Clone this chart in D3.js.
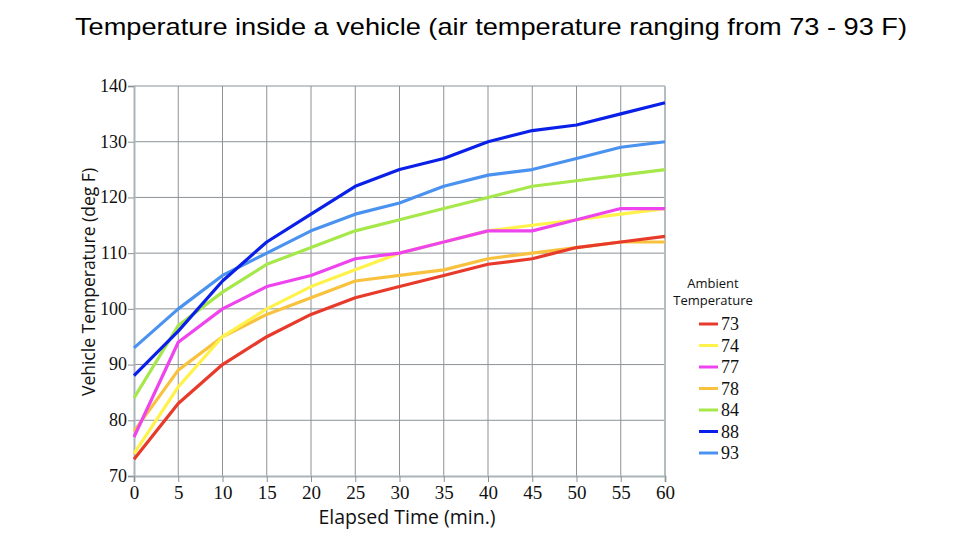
<!DOCTYPE html>
<html><head><meta charset="utf-8">
<script src="https://cdn.jsdelivr.net/npm/d3@7"></script>
<style>body{margin:0;background:#fff;} svg{display:block;}</style>
</head><body>
<svg id="c" width="960" height="539"></svg>
<script>
const times = [0,5,10,15,20,25,30,35,40,45,50,55,60];
const xTicks = [0,5,10,15,20,25,30,35,40,45,50,55,60];
const yTicks = [70,80,90,100,110,120,130,140];
const seriesNames = ["73","74","77","78","84","88","93"];
const seriesColors = ["#e83a2a","#fff24a","#ee44ee","#f8c23e","#a6e84a","#0a20e8","#4a92f0"];
const s73 = [73,83,90,95,99,102,104,106,108,109,111,112,113];
const s74 = [74,86,95,100,104,107,110,112,114,115,116,117,118];
const s77 = [77,94,100,104,106,109,110,112,114,114,116,118,118];
const s78 = [78,89,95,99,102,105,106,107,109,110,111,112,112];
const s84 = [84,97,103,108,111,114,116,118,120,122,123,124,125];
const s88 = [88,96,105,112,117,122,125,127,130,132,133,135,137];
const s93 = [93,100,106,110,114,117,119,122,124,125,127,129,130];
const seriesValues = [s73,s74,s77,s78,s84,s88,s93];
const drawOrder = [3,1,0,2,4,6,5];

const svg = d3.select("#c");
const x = d3.scaleLinear().domain([0,60]).range([134,665]);
const y = d3.scaleLinear().domain([70,140]).range([476,86]);

svg.append("text").attr("x",75).attr("y",35)
  .attr("font-family","Liberation Sans, Arial, sans-serif").attr("font-size",24)
  .attr("textLength",832).attr("lengthAdjust","spacingAndGlyphs")
  .attr("fill","#000").text("Temperature inside a vehicle (air temperature ranging from 73 - 93 F)");

// grid
const g = svg.append("g");
g.selectAll("line.v").data(xTicks.slice(1,-1)).enter().append("line")
  .attr("x1",d=>x(d)).attr("x2",d=>x(d)).attr("y1",y(140)).attr("y2",y(70))
  .attr("stroke","#8c9296").attr("stroke-width",1);
g.selectAll("line.h").data(yTicks.slice(1)).enter().append("line")
  .attr("x1",x(0)).attr("x2",x(60)).attr("y1",d=>y(d)).attr("y2",d=>y(d))
  .attr("stroke","#8c9296").attr("stroke-width",1);
// right border
g.append("line").attr("x1",x(60)).attr("x2",x(60)).attr("y1",y(140)).attr("y2",y(70))
  .attr("stroke","#b4bcc0").attr("stroke-width",2);

const serif = "Liberation Serif, Times New Roman, serif";
const yAxis = d3.axisLeft(y).tickValues(yTicks).tickSize(6).tickPadding(1);
const ya = svg.append("g").attr("transform",`translate(${x(0)},0)`).call(yAxis);
ya.select(".domain").attr("stroke","#aab4ba").attr("stroke-width",2);
ya.selectAll(".tick line").attr("stroke","#8c9296");
ya.selectAll(".tick text").attr("font-family",serif).attr("font-size",18).attr("fill","#111").attr("dy","0.3em");

const xAxis = d3.axisBottom(x).tickValues(xTicks).tickSize(6).tickPadding(4);
const xa = svg.append("g").attr("transform",`translate(0,${y(70)})`).call(xAxis);
xa.select(".domain").attr("stroke","#aab4ba").attr("stroke-width",2);
xa.selectAll(".tick line").attr("stroke","#8c9296");
xa.selectAll(".tick text").attr("font-family",serif).attr("font-size",19).attr("fill","#111");

const sans = "Open Sans, Noto Sans, sans-serif";
svg.append("text").attr("transform",`translate(94.5,282) rotate(-90)`).attr("text-anchor","middle")
  .attr("font-family",sans).attr("font-size",17.5).attr("fill","#111").text("Vehicle Temperature (deg F)");
svg.append("text").attr("x",407).attr("y",524).attr("text-anchor","middle")
  .attr("font-family",sans).attr("font-size",19.5).attr("fill","#111").text("Elapsed Time (min.)");

// lines
const line = d3.line().x((d,i)=>x(times[i])).y(d=>y(d));
drawOrder.forEach(k=>{
  svg.append("path").datum(seriesValues[k]).attr("d",line).attr("fill","none")
    .attr("stroke",seriesColors[k]).attr("stroke-width",3.2).attr("stroke-linejoin","round");
});

// legend
const lg = svg.append("g");
lg.append("text").attr("x",713).attr("y",288).attr("text-anchor","middle").attr("font-family",sans)
  .attr("font-size",13).attr("fill","#111").text("Ambient");
lg.append("text").attr("x",713).attr("y",305).attr("text-anchor","middle").attr("font-family",sans)
  .attr("font-size",13).attr("fill","#111").text("Temperature");
const ly = d3.scalePoint().domain(seriesNames).range([324,453]);
seriesNames.forEach((n,i)=>{
  lg.append("line").attr("x1",699).attr("x2",718).attr("y1",ly(n)).attr("y2",ly(n))
    .attr("stroke",seriesColors[i]).attr("stroke-width",3);
  lg.append("text").attr("x",721).attr("y",ly(n)).attr("dy","0.35em").attr("font-family",serif)
    .attr("font-size",18).attr("fill","#111").text(n);
});
</script>
</body></html>
